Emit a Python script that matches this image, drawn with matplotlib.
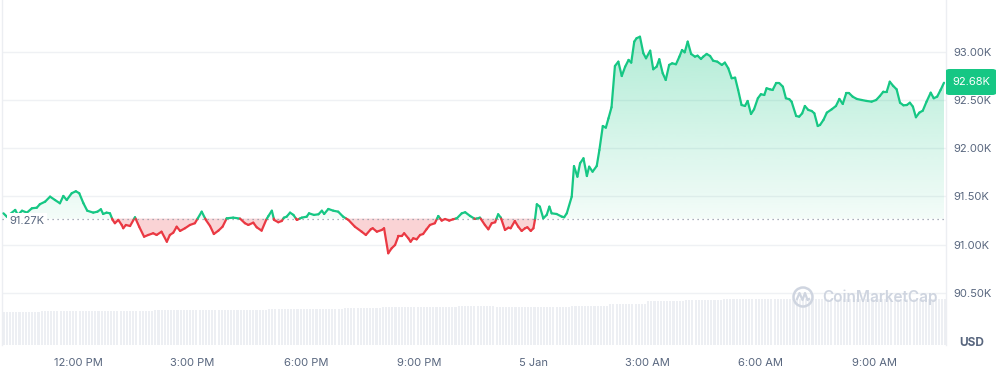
import numpy as np
import matplotlib
matplotlib.use("Agg")
import matplotlib.pyplot as plt
from matplotlib.collections import LineCollection
from matplotlib.path import Path
from matplotlib.patches import PathPatch, FancyBboxPatch, Circle
from matplotlib.lines import Line2D
import matplotlib.transforms as mtransforms

plt.rcParams['font.family'] = ['Inter', 'DejaVu Sans']

# ---------------- data (hours since 00:00 on 4 Jan) ----------------
times = [10.02, 10.11, 10.33, 10.40, 10.51, 10.64, 10.77, 10.90, 10.98, 11.12,
         11.25, 11.38, 11.51, 11.60, 11.69, 11.82, 11.93, 12.02, 12.13, 12.23,
         12.39, 12.50, 12.59, 12.65, 12.74, 12.83, 12.90, 12.96, 13.05, 13.14,
         13.18, 13.25, 13.36, 13.49, 13.60, 13.73, 13.84, 13.97, 14.06, 14.19,
         14.33, 14.41, 14.50, 14.59, 14.68, 14.81, 14.94, 15.07, 15.25, 15.36,
         15.47, 15.57, 15.69, 15.80, 15.91, 16.08, 16.26,
         16.39, 16.48, 16.61, 16.70, 16.83, 16.95, 17.01, 17.10, 17.16, 17.27,
         17.36, 17.42, 17.49, 17.58, 17.67, 17.76, 17.89, 18.02, 18.08, 18.21,
         18.33, 18.42, 18.48, 18.59, 18.72, 18.85, 18.98, 19.12, 19.29, 19.47,
         19.58, 19.71, 19.76, 19.87, 20.00, 20.06, 20.17, 20.26, 20.35, 20.44,
         20.53, 20.59, 20.70, 20.76, 20.83, 20.92, 21.01, 21.09, 21.18, 21.27,
         21.40, 21.49, 21.58, 21.67, 21.78, 21.88, 21.98, 22.11, 22.20, 22.33,
         22.46, 22.59, 22.72, 22.81, 22.90, 22.99, 23.07, 23.14, 23.25, 23.34,
         23.40, 23.51, 23.60, 23.69, 23.78, 23.84, 23.93, 24.00,
         24.04, 24.09, 24.17, 24.26, 24.35, 24.42, 24.48, 24.61, 24.75, 24.81,
         24.88, 25.01, 25.07, 25.16, 25.23, 25.32, 25.41, 25.47, 25.56, 25.67,
         25.74, 25.83, 25.91, 25.98, 26.06, 26.15, 26.24, 26.33, 26.42, 26.51,
         26.58, 26.66, 26.72, 26.81, 26.90, 26.97, 27.08, 27.16, 27.25, 27.32,
         27.41, 27.49, 27.58, 27.66, 27.76, 27.85, 27.92, 27.99, 28.07, 28.16,
         28.26, 28.33, 28.42, 28.48, 28.57, 28.66, 28.74, 28.85, 28.97, 29.05,
         29.14, 29.23, 29.32, 29.40, 29.49, 29.58, 29.65, 29.74, 29.82, 29.92,
         30.00, 30.09, 30.15, 30.24, 30.31, 30.40, 30.49, 30.58, 30.66, 30.75,
         30.81, 30.93, 31.01, 31.09, 31.16, 31.25, 31.34, 31.41, 31.50, 31.56,
         31.65, 31.74, 31.87, 31.98, 32.07, 32.16, 32.25, 32.33, 32.42, 32.53,
         32.66, 32.79, 32.92, 33.04, 33.14, 33.23, 33.32, 33.40, 33.49, 33.58,
         33.67, 33.76, 33.85, 33.93, 34.01, 34.09, 34.18, 34.27, 34.37, 34.48,
         34.56, 34.65, 34.74, 34.83]

prices = [91325, 91290, 91360, 91308, 91352, 91332, 91377, 91383, 91419, 91446,
          91498, 91463, 91429, 91505, 91463, 91533, 91554, 91533, 91429, 91352,
          91332, 91342, 91367, 91318, 91332, 91325, 91256, 91222, 91256, 91204,
          91170, 91204, 91193, 91284, 91186, 91082, 91100, 91118, 91100, 91134,
          91030, 91100, 91124, 91186, 91142, 91170, 91204, 91222, 91342, 91256,
          91193, 91110, 91145, 91186, 91273, 91280, 91270,
          91222, 91204, 91228, 91180, 91145, 91256, 91297, 91352, 91256, 91232,
          91245, 91280, 91290, 91332, 91308, 91256, 91280, 91290, 91325, 91308,
          91315, 91352, 91318, 91370, 91352, 91342, 91290, 91256, 91186, 91134,
          91100, 91159, 91170, 91134, 91152, 91170, 90910, 90962, 90996, 91090,
          91090, 91118, 91066, 91030, 91066, 91055, 91100, 91110, 91159, 91204,
          91222, 91297, 91249, 91266, 91249, 91263, 91273, 91325, 91336, 91297,
          91266, 91280, 91204, 91159, 91222, 91232, 91315, 91280, 91152, 91176,
          91170, 91245, 91186, 91142, 91170, 91180, 91142, 91170,
          91257, 91419, 91394, 91273, 91308, 91394, 91325, 91318, 91290, 91284,
          91325, 91498, 91815, 91705, 91844, 91896, 91712, 91809, 91757, 91816,
          91982, 92231, 92214, 92311, 92426, 92854, 92899, 92750, 92847, 92917,
          92889, 93107, 93142, 93158, 92986, 92934, 93013, 92820, 92847, 92924,
          92779, 92709, 92865, 92882, 92872, 92951, 93020, 92996, 93107, 92979,
          92951, 92961, 92927, 92951, 92979, 92958, 92909, 92899, 92865, 92889,
          92830, 92727, 92733, 92605, 92449, 92439, 92491, 92356, 92405, 92519,
          92561, 92553, 92623, 92612, 92605, 92675, 92675, 92639, 92519, 92509,
          92484, 92335, 92328, 92363, 92439, 92398, 92387, 92363, 92231, 92242,
          92294, 92370, 92405, 92439, 92512, 92460, 92571, 92571, 92536, 92512,
          92501, 92491, 92484, 92501, 92543, 92588, 92588, 92691, 92647, 92612,
          92473, 92446, 92449, 92473, 92432, 92322, 92370, 92390, 92484, 92577,
          92519, 92536, 92605, 92680]

base_price = 91270
last_price = 92680

# hourly 24h-volume level (billion USD), hours starting 10:00 on 4 Jan
vol_hours = list(range(10, 35))
vol_values = [33.0, 33.6, 34.0, 34.5, 35.0, 35.0, 35.2, 35.6, 36.4, 36.6,
              37.8, 38.4, 38.6, 38.2, 38.0, 39.0, 41.5, 44.0, 45.5, 46.0,
              46.0, 46.2, 46.0, 46.2, 46.0]

y_ticks = [90500, 91000, 91500, 92000, 92500, 93000]
x_ticks = [12, 15, 18, 21, 24, 27, 30, 33]
x_labels = ['12:00 PM', '3:00 PM', '6:00 PM', '9:00 PM', '5 Jan',
            '3:00 AM', '6:00 AM', '9:00 AM']

GREEN = '#16c784'
RED = '#ea3943'
TXT = '#58667e'

# ---------------- figure ----------------
W, H = 1003, 369
fig = plt.figure(figsize=(W / 100, H / 100), dpi=100)
rect = [2 / W, (H - 345) / H, (946 - 2) / W, 345 / H]
XLIM = (9.982, 34.883)
YLIM = (89958, 93539)

axv = fig.add_axes(rect, zorder=0)
ax = fig.add_axes(rect, zorder=1)
ax.patch.set_visible(False)

# volume bars (5-minute bars, value of their hour)
bar_t = np.arange(10.0, 34.84, 1 / 12)
bar_v = [vol_values[vol_hours.index(int(np.floor(tt)))] for tt in bar_t]
axv.bar(bar_t, bar_v, width=0.055, color='#edeff3', linewidth=0, align='edge')
axv.set_xlim(*XLIM)
axv.set_ylim(0, 345)
axv.axis('off')

# insert baseline-crossing points for colouring
t = np.array(times, float)
p = np.array(prices, float)
te, pe = [t[0]], [p[0]]
for i in range(1, len(t)):
    a, b = p[i - 1] - base_price, p[i] - base_price
    if a * b < 0:
        f = a / (a - b)
        te.append(t[i - 1] + f * (t[i] - t[i - 1]))
        pe.append(base_price)
    te.append(t[i]); pe.append(p[i])
te, pe = np.array(te), np.array(pe)

# red fill
ax.fill_between(te, pe, base_price, where=pe <= base_price, color=RED,
                alpha=0.22, linewidth=0, zorder=2)

# green gradient fill
coll = ax.fill_between(te, pe, base_price, where=pe >= base_price,
                       facecolor='none', edgecolor='none')
paths = coll.get_paths()
cpath = Path.make_compound_path(*paths)
clip = PathPatch(cpath, transform=ax.transData, facecolor='none', edgecolor='none')
ax.add_patch(clip)
top = max(prices)
n = 256
grad = np.zeros((n, 1, 4))
g = np.array(matplotlib.colors.to_rgb(GREEN))
grad[:, 0, :3] = g
grad[:, 0, 3] = np.linspace(0.05, 0.33, n)
im = ax.imshow(grad, extent=[XLIM[0], XLIM[1], base_price, top], origin='lower',
               aspect='auto', zorder=2, interpolation='bilinear')
im.set_clip_path(clip)

# coloured line
segs, cols = [], []
for i in range(1, len(te)):
    segs.append([(te[i - 1], pe[i - 1]), (te[i], pe[i])])
    mid = (pe[i - 1] + pe[i]) / 2
    cols.append(GREEN if mid >= base_price else RED)
lc = LineCollection(segs, colors=cols, linewidths=1.6, capstyle='round',
                    joinstyle='round', zorder=4)
ax.add_collection(lc)

# baseline
ax.axhline(base_price, color='#8e96a6', linewidth=0.9, linestyle=(0, (1, 3)), zorder=3)

ax.set_xlim(*XLIM)
ax.set_ylim(*YLIM)

# grid / spines
ax.set_yticks(y_ticks)
ax.set_yticklabels([f'{v / 1000:.2f}K' for v in y_ticks])
ax.yaxis.tick_right()
ax.grid(axis='y', color='#eff1f4', linewidth=1, zorder=0)
ax.set_axisbelow(True)
ax.set_xticks(x_ticks)
ax.set_xticklabels(x_labels)
ax.tick_params(axis='y', length=0, pad=5, labelsize=8, labelcolor=TXT)
ax.tick_params(axis='x', length=0, pad=9, labelsize=8, labelcolor=TXT)
for s in ['top', 'bottom']:
    ax.spines[s].set_visible(False)
for s in ['left', 'right']:
    ax.spines[s].set_color('#eceef2')
    ax.spines[s].set_linewidth(1)

# baseline label
ax.text(0.008, base_price - 25, f'{base_price / 1000:.2f}K',
        transform=mtransforms.blended_transform_factory(ax.transAxes, ax.transData),
        va='center', ha='left', fontsize=8, color=TXT, zorder=6,
        bbox=dict(boxstyle='square,pad=0.25', facecolor='white', edgecolor='none'))

# price tag
tag = FancyBboxPatch((946 / W, 1 - 95 / H), 50 / W, 26 / H,
                     boxstyle='round,pad=0,rounding_size=0.004',
                     transform=fig.transFigure, facecolor=GREEN, edgecolor='none',
                     zorder=5)
fig.patches.append(tag)
fig.text(971 / W, 1 - 82 / H, f'{last_price / 1000:.2f}K', color='white',
         fontsize=8, ha='center', va='center', zorder=6)

# currency label
fig.text(972 / W, 1 - 343 / H, 'USD', color=TXT, fontsize=8.5, fontweight='bold',
         ha='center', va='center')

# watermark
wm = '#cfd5e0'
fig.text(822 / W, 1 - 297 / H, 'CoinMarketCap', color=wm, fontsize=11,
         fontweight='semibold', ha='left', va='center')
cx, cy = 8.03, (H - 297) / 100
fig.patches.append(Circle((cx, cy), 0.095, transform=fig.dpi_scale_trans,
                          facecolor='none', edgecolor=wm, linewidth=1.8))
fig.lines.append(Line2D([cx - 0.06, cx - 0.035, cx - 0.005, cx + 0.02, cx + 0.045, cx + 0.06],
                        [cy - 0.02, cy + 0.04, cy - 0.03, cy + 0.04, cy - 0.03, cy - 0.02],
                        transform=fig.dpi_scale_trans, color=wm, linewidth=1.6))

fig.savefig('out.png', dpi=100)
